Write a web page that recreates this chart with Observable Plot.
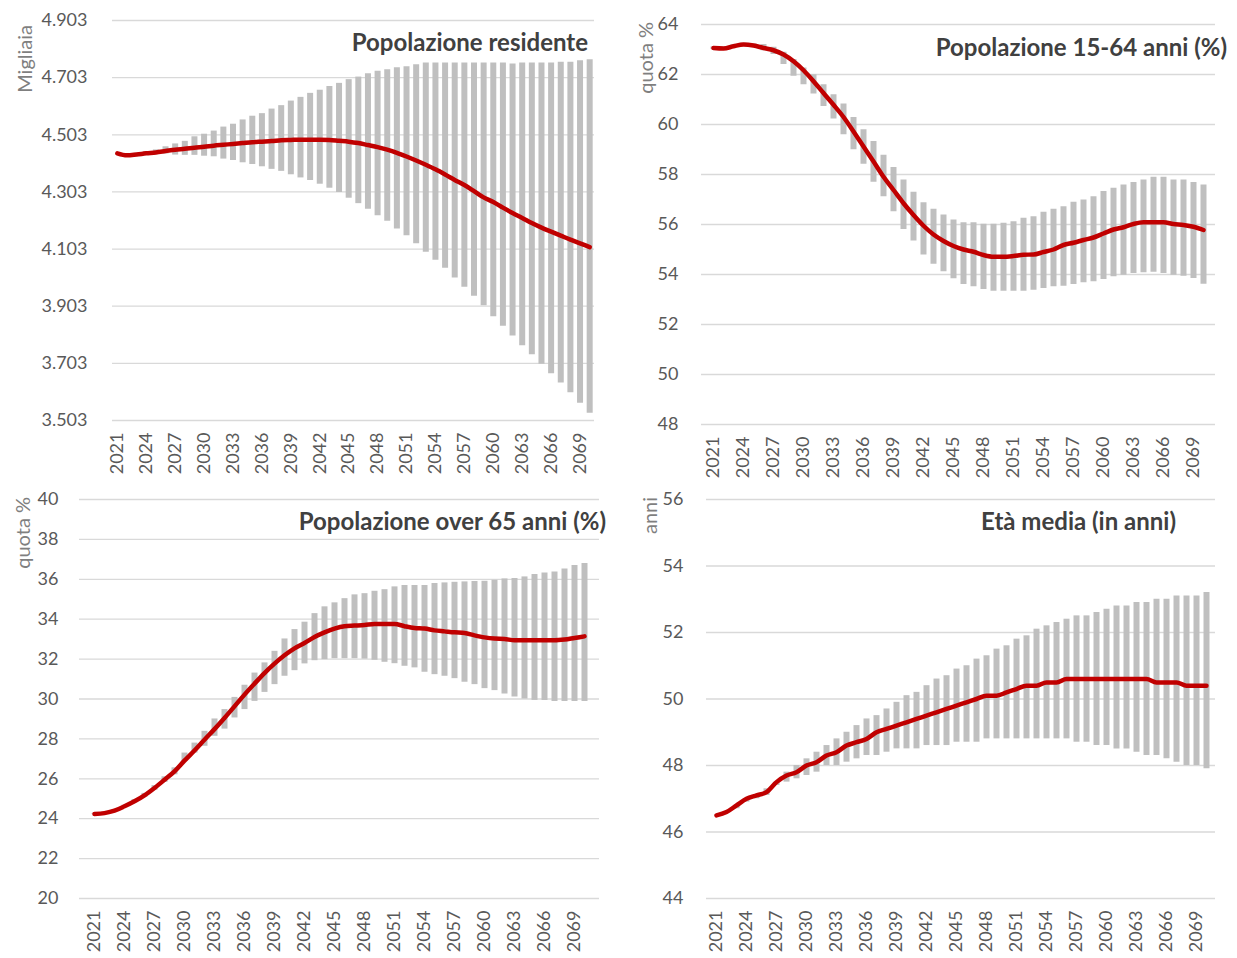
<!DOCTYPE html>
<html>
<head>
<meta charset="utf-8">
<script src="https://cdn.jsdelivr.net/npm/d3@7"></script>
<script src="https://cdn.jsdelivr.net/npm/@observablehq/plot@0.6"></script>
<style>
  html, body { margin: 0; padding: 0; background: #fff; }
  #wrap { position: relative; width: 1237px; height: 958px; overflow: hidden; font-family: Lato, "Open Sans", sans-serif; }
  .panel { position: absolute; }
  .title { position: absolute; font-weight: bold; font-size: 24px; color: #404040; white-space: nowrap; transform: translateY(-50%); text-align: right; }
  .ylab { position: absolute; font-size: 20px; color: #7f7f7f; writing-mode: vertical-rl; transform: rotate(180deg); white-space: nowrap; }
</style>
</head>
<body>
<div id="wrap"></div>
<script>
// ---- categories ----
const years = [2021,2022,2023,2024,2025,2026,2027,2028,2029,2030,
               2031,2032,2033,2034,2035,2036,2037,2038,2039,2040,
               2041,2042,2043,2044,2045,2046,2047,2048,2049,2050,
               2051,2052,2053,2054,2055,2056,2057,2058,2059,2060,
               2061,2062,2063,2064,2065,2066,2067,2068,2069,2070];
const tickYears = [2021,2024,2027,2030,2033,2036,2039,2042,2045,2048,2051,2054,2057,2060,2063,2066,2069];

// ---- Popolazione residente (migliaia) ----
const popTicks = [3503,3703,3903,4103,4303,4503,4703,4903];
const popLine = [4438,4431,4434,4438,4441,4446,4451,4454,4458,4461,
                 4465,4468,4471,4474,4477,4479,4481,4484,4485,4486,
                 4486,4486,4485,4482,4479,4474,4467,4460,4451,4440,
                 4427,4413,4398,4382,4364,4345,4327,4306,4284,4268,
                 4248,4229,4212,4194,4178,4164,4150,4136,4123,4110];
const popHigh = [4438,4433,4438,4444,4450,4461,4471,4480,4496,4505,
                 4516,4530,4540,4555,4568,4577,4593,4605,4621,4634,
                 4648,4659,4672,4683,4696,4705,4717,4725,4731,4738,
                 4741,4748,4754,4754,4754,4754,4754,4754,4754,4754,
                 4754,4751,4754,4754,4754,4754,4757,4757,4762,4766];
const popLow  = [4438,4429,4430,4432,4434,4436,4432,4431,4431,4428,
                 4426,4418,4413,4405,4399,4391,4382,4375,4363,4352,
                 4343,4330,4316,4301,4281,4262,4242,4220,4200,4173,
                 4150,4122,4092,4064,4036,4002,3969,3938,3905,3866,
                 3833,3799,3765,3733,3700,3667,3634,3600,3563,3528];

// ---- Popolazione 15-64 anni (%) ----
const wTicks = [48,50,52,54,56,58,60,62,64];
const wLine = [63.06,63.04,63.13,63.20,63.16,63.06,62.97,62.80,62.53,62.17,
               61.73,61.26,60.79,60.30,59.72,59.12,58.52,57.91,57.38,56.85,
               56.38,55.95,55.60,55.34,55.14,55.00,54.91,54.78,54.71,54.71,
               54.74,54.79,54.80,54.90,55.00,55.18,55.27,55.38,55.48,55.64,
               55.80,55.89,56.02,56.09,56.09,56.09,56.02,55.98,55.91,55.78];
const wHigh = [63.10,63.10,63.20,63.25,63.22,63.20,63.09,62.89,62.60,62.26,
               61.99,61.59,61.19,60.82,60.28,59.79,59.32,58.77,58.28,57.78,
               57.29,56.87,56.61,56.38,56.18,56.07,56.07,56.01,56.01,56.05,
               56.11,56.25,56.31,56.49,56.61,56.71,56.89,56.98,57.11,57.32,
               57.45,57.58,57.68,57.78,57.89,57.89,57.78,57.78,57.68,57.58];
const wLow  = [63.00,63.00,63.06,63.15,63.10,62.95,62.80,62.40,61.93,61.59,
               61.22,60.72,60.22,59.59,58.99,58.41,57.69,57.11,56.51,55.80,
               55.34,54.78,54.41,54.11,53.83,53.60,53.51,53.40,53.33,53.33,
               53.33,53.33,53.37,53.44,53.51,53.53,53.60,53.67,53.71,53.80,
               53.91,53.97,54.04,54.07,54.09,54.04,53.97,53.93,53.84,53.61];

// ---- Popolazione over 65 anni (%) ----
const oTicks = [20,22,24,26,28,30,32,34,36,38,40];
const oLine = [24.23,24.28,24.40,24.62,24.87,25.17,25.54,25.95,26.37,26.91,
               27.42,27.96,28.49,29.05,29.63,30.22,30.77,31.30,31.77,32.19,
               32.54,32.81,33.11,33.34,33.53,33.65,33.68,33.71,33.76,33.76,
               33.76,33.65,33.56,33.53,33.44,33.39,33.34,33.31,33.19,33.09,
               33.03,33.01,32.94,32.94,32.94,32.94,32.94,32.98,33.06,33.14];
const oHigh = [24.25,24.32,24.45,24.68,24.95,25.27,25.66,26.10,26.55,27.29,
               27.79,28.38,29.00,29.47,30.08,30.69,31.30,31.81,32.39,33.01,
               33.48,33.85,34.28,34.62,34.82,35.03,35.22,35.28,35.40,35.48,
               35.62,35.69,35.69,35.69,35.79,35.82,35.85,35.87,35.89,35.90,
               35.95,36.02,36.04,36.12,36.24,36.32,36.37,36.52,36.69,36.79];
const oLow  = [24.21,24.25,24.36,24.57,24.80,25.08,25.43,25.82,26.20,26.87,
               27.29,27.63,28.13,28.49,29.05,29.47,29.88,30.33,30.72,31.14,
               31.42,31.76,31.92,31.97,32.02,32.02,32.02,32.00,31.94,31.84,
               31.77,31.64,31.56,31.34,31.22,31.14,31.02,30.84,30.72,30.52,
               30.42,30.25,30.10,30.00,29.93,29.92,29.88,29.88,29.88,29.88];

// ---- Età media (in anni) ----
const eTicks = [44,46,48,50,52,54,56];
const eLine = [46.5,46.6,46.8,47.0,47.1,47.2,47.5,47.7,47.8,48.0,
               48.1,48.3,48.4,48.6,48.7,48.8,49.0,49.1,49.2,49.3,
               49.4,49.5,49.6,49.7,49.8,49.9,50.0,50.1,50.1,50.2,
               50.3,50.4,50.4,50.5,50.5,50.6,50.6,50.6,50.6,50.6,
               50.6,50.6,50.6,50.6,50.5,50.5,50.5,50.4,50.4,50.4];
const eHigh = [46.5,46.6,46.8,47.0,47.1,47.3,47.5,47.8,48.0,48.2,
               48.4,48.6,48.8,49.0,49.2,49.4,49.5,49.7,49.9,50.1,
               50.2,50.4,50.6,50.7,50.9,51.0,51.2,51.3,51.5,51.6,
               51.8,51.9,52.1,52.2,52.3,52.4,52.5,52.5,52.6,52.7,
               52.8,52.8,52.9,52.9,53.0,53.0,53.1,53.1,53.1,53.2];
const eLow  = [46.5,46.6,46.7,46.9,47.0,47.1,47.4,47.5,47.6,47.7,
               47.8,48.0,48.0,48.1,48.2,48.3,48.3,48.4,48.5,48.5,
               48.5,48.6,48.6,48.6,48.7,48.7,48.7,48.8,48.8,48.8,
               48.8,48.8,48.8,48.8,48.8,48.8,48.7,48.7,48.6,48.6,
               48.5,48.5,48.4,48.3,48.3,48.2,48.1,48.0,48.0,47.9];

const itFmt = d => d3.format(",")(d).replace(/,/g, ".");

const wrap = document.getElementById("wrap");

function panel(cfg) {
  const data = years.map((y, i) => ({year: y, value: cfg.line[i], low: cfg.low[i], high: cfg.high[i]}));
  const chart = Plot.plot({
    width: cfg.width,
    height: cfg.height,
    marginTop: cfg.mt, marginBottom: cfg.mb, marginLeft: cfg.ml, marginRight: cfg.mr,
    style: {fontFamily: "Lato, 'Open Sans', sans-serif", fontSize: "18px", color: "#595959", background: "transparent", overflow: "visible"},
    x: {type: "point", domain: years, padding: 0.5, align: 0.5, ticks: tickYears, tickFormat: d => String(d), tickRotate: -90, tickSize: 0, tickPadding: 12, label: null},
    y: {domain: [cfg.ticks[0], cfg.ticks[cfg.ticks.length - 1]], ticks: cfg.ticks, tickFormat: cfg.fmt, tickSize: 0, tickPadding: cfg.tp, label: null},
    marks: [
      Plot.gridY(cfg.ticks, {stroke: "#d9d9d9", strokeOpacity: 1, strokeWidth: 1.3}),
      Plot.ruleX(data, {x: "year", y1: "low", y2: "high", stroke: "#bfbfbf", strokeWidth: 6}),
      Plot.line(data, {x: "year", y: "value", stroke: "#c00000", strokeWidth: 4.5, curve: "monotone-x", strokeLinecap: "round"})
    ]
  });
  const d = document.createElement("div");
  d.className = "panel";
  d.style.left = cfg.left + "px";
  d.style.top = cfg.top + "px";
  d.appendChild(chart);
  wrap.appendChild(d);

  const t = document.createElement("div");
  t.className = "title";
  t.textContent = cfg.title;
  t.style.right = (1237 - cfg.titleRight) + "px";
  t.style.top = cfg.titleY + "px";
  wrap.appendChild(t);

  const yl = document.createElement("div");
  yl.className = "ylab";
  yl.textContent = cfg.ylabel;
  yl.style.left = cfg.ylx + "px";
  yl.style.top = cfg.yly + "px";
  wrap.appendChild(yl);
}

panel({left: 0, top: 0, width: 610, height: 480, mt: 20, mb: 60, ml: 112, mr: 16, tp: 25,
       ticks: popTicks, fmt: itFmt, line: popLine, low: popLow, high: popHigh,
       title: "Popolazione residente", titleRight: 588, titleY: 41, ylabel: "Migliaia", ylx: 12, yly: 25});
panel({left: 620, top: 0, width: 617, height: 480, mt: 24, mb: 56, ml: 81, mr: 22, tp: 23,
       ticks: wTicks, fmt: d => d, line: wLine, low: wLow, high: wHigh,
       title: "Popolazione 15-64 anni (%)", titleRight: 1227, titleY: 46, ylabel: "quota %", ylx: 633, yly: 22});
panel({left: 0, top: 480, width: 620, height: 478, mt: 19, mb: 60, ml: 79, mr: 21, tp: 21,
       ticks: oTicks, fmt: d => d, line: oLine, low: oLow, high: oHigh,
       title: "Popolazione over 65 anni (%)", titleRight: 606, titleY: 520, ylabel: "quota %", ylx: 10, yly: 497});
panel({left: 620, top: 480, width: 617, height: 478, mt: 19, mb: 60, ml: 86, mr: 22, tp: 23,
       ticks: eTicks, fmt: d => d, line: eLine, low: eLow, high: eHigh,
       title: "Età media (in anni)", titleRight: 1176, titleY: 520, ylabel: "anni", ylx: 637, yly: 497});
</script>
</body>
</html>
